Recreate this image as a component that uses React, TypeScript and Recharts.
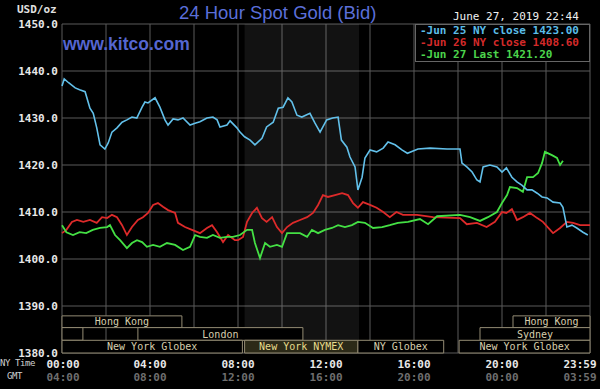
import { LineChart, Line, XAxis, YAxis, CartesianGrid, ReferenceArea } from 'recharts';

// [hour of NY day, price]
const jun25: [number, number][] = [
  [0, 1436.8], [0.1, 1438.3], [0.3, 1437.5], [0.6, 1436.4], [0.8, 1436.0], [1.05, 1435.6],
  [1.27, 1432.1], [1.42, 1431.0], [1.58, 1427.9], [1.73, 1424.3], [1.95, 1423.4], [2.1, 1424.7],
  [2.27, 1427.0], [2.5, 1427.9], [2.73, 1429.1], [2.95, 1429.6], [3.18, 1430.2], [3.4, 1430.0],
  [3.64, 1432.3], [3.77, 1433.4], [3.91, 1433.2], [4.23, 1434.3], [4.45, 1432.3], [4.68, 1429.6],
  [4.82, 1428.5], [5.05, 1429.8], [5.27, 1429.6], [5.5, 1430.0], [5.82, 1428.5], [6.05, 1428.9],
  [6.27, 1429.2], [6.59, 1430.0], [6.86, 1430.2], [7.05, 1429.6], [7.18, 1428.1], [7.5, 1428.5],
  [7.64, 1429.4], [7.95, 1427.9], [8.09, 1427.0], [8.3, 1426.0], [8.55, 1425.3], [8.77, 1424.3],
  [9.09, 1425.7], [9.3, 1428.1], [9.6, 1429.1], [9.83, 1432.1], [10.05, 1432.3], [10.27, 1434.3],
  [10.45, 1433.4], [10.68, 1430.6], [10.9, 1430.2], [11.27, 1431.0], [11.5, 1428.9], [11.73, 1427.0],
  [12.03, 1429.6], [12.3, 1430.0], [12.55, 1430.2], [12.7, 1425.3], [12.95, 1423.8], [13.09, 1421.7],
  [13.32, 1419.6], [13.45, 1414.7], [13.64, 1417.4], [13.77, 1421.5], [14.0, 1423.2], [14.3, 1422.8],
  [14.6, 1423.6], [14.82, 1424.9], [15.14, 1424.3], [15.45, 1423.2], [15.7, 1422.5], [16.18, 1423.4],
  [16.73, 1423.6], [17.5, 1423.4], [18.09, 1423.4], [18.18, 1420.4], [18.4, 1419.6], [18.64, 1418.5],
  [18.86, 1416.8], [19.0, 1416.4], [19.14, 1419.6], [19.45, 1420.0], [19.77, 1419.6], [20.0, 1418.5],
  [20.2, 1419.4], [20.45, 1417.4], [20.68, 1416.4], [20.9, 1415.7], [21.14, 1414.7], [21.36, 1414.7],
  [21.6, 1414.0], [21.82, 1413.2], [22.05, 1413.0], [22.32, 1412.1], [22.64, 1411.9], [22.77, 1411.0],
  [22.95, 1406.8], [23.18, 1407.2], [23.4, 1406.6], [23.68, 1405.7], [23.9, 1405.1],
];

const jun26: [number, number][] = [
  [0, 1405.5], [0.2, 1406.2], [0.45, 1407.9], [0.68, 1408.3], [0.97, 1407.9], [1.27, 1408.3],
  [1.58, 1407.7], [1.82, 1408.9], [2.05, 1408.7], [2.27, 1409.4], [2.5, 1408.9], [2.73, 1407.2],
  [2.95, 1405.1], [3.18, 1406.8], [3.45, 1408.3], [3.68, 1408.9], [3.91, 1409.8], [4.14, 1411.5],
  [4.36, 1411.9], [4.59, 1411.1], [4.82, 1410.4], [5.14, 1409.8], [5.27, 1407.7], [5.59, 1406.8],
  [5.91, 1406.2], [6.27, 1405.5], [6.59, 1406.6], [6.82, 1407.2], [7.05, 1405.7], [7.32, 1403.6],
  [7.55, 1405.1], [7.86, 1404.0], [8.0, 1404.0], [8.23, 1404.7], [8.41, 1407.9], [8.64, 1409.8],
  [8.86, 1410.9], [9.09, 1408.7], [9.3, 1407.9], [9.55, 1408.9], [9.77, 1406.8], [10.0, 1405.5],
  [10.23, 1406.8], [10.5, 1407.7], [10.82, 1408.3], [11.14, 1408.9], [11.41, 1409.8], [11.64, 1411.5],
  [11.86, 1413.6], [12.09, 1413.2], [12.41, 1413.6], [12.73, 1414.0], [13.0, 1413.6], [13.23, 1411.9],
  [13.45, 1410.9], [13.68, 1412.1], [14.0, 1411.5], [14.3, 1410.9], [14.6, 1410.0], [14.9, 1408.9],
  [15.2, 1410.0], [15.5, 1409.4], [15.73, 1409.4], [16.14, 1409.4], [16.86, 1408.9], [18.09, 1408.7],
  [18.4, 1407.4], [18.86, 1407.7], [19.3, 1406.8], [19.68, 1407.9], [20.0, 1410.0], [20.2, 1409.8],
  [20.45, 1410.6], [20.68, 1408.3], [20.95, 1408.9], [21.27, 1409.8], [21.6, 1408.7], [21.86, 1407.9],
  [22.32, 1405.5], [22.64, 1406.6], [22.95, 1407.9], [23.23, 1407.7], [23.55, 1407.2], [24, 1407.2],
];

const jun27: [number, number][] = [
  [0, 1407.2], [0.2, 1405.7], [0.5, 1405.1], [0.8, 1405.7], [1.1, 1405.5], [1.4, 1406.2],
  [1.73, 1406.6], [2.05, 1406.8], [2.18, 1407.2], [2.41, 1405.1], [2.64, 1404.0], [2.95, 1402.3],
  [3.18, 1403.4], [3.41, 1404.0], [3.64, 1403.6], [3.86, 1402.6], [4.14, 1403.0], [4.45, 1402.6],
  [4.77, 1403.4], [5.14, 1403.0], [5.5, 1401.9], [5.82, 1402.6], [6.05, 1405.1], [6.27, 1404.7],
  [6.59, 1404.5], [6.86, 1405.1], [7.18, 1404.5], [7.5, 1404.7], [7.77, 1404.7], [8.09, 1405.1],
  [8.41, 1406.2], [8.64, 1406.2], [8.77, 1403.4], [9.0, 1400.2], [9.23, 1403.4], [9.45, 1402.6],
  [9.77, 1403.0], [10.0, 1402.6], [10.23, 1405.5], [10.5, 1405.5], [10.82, 1405.5], [11.14, 1404.7],
  [11.36, 1406.2], [11.64, 1405.5], [11.95, 1406.2], [12.27, 1406.6], [12.55, 1407.2], [12.86, 1406.8],
  [13.18, 1407.2], [13.45, 1407.9], [13.77, 1407.7], [14.14, 1406.6], [14.55, 1406.8], [14.9, 1407.2],
  [15.27, 1407.7], [15.73, 1407.9], [16.27, 1408.5], [16.64, 1407.4], [17.05, 1409.1], [18.09, 1409.4],
  [18.55, 1408.9], [19.0, 1408.1], [19.36, 1408.9], [19.77, 1410.0], [20.0, 1411.9], [20.23, 1413.6],
  [20.36, 1415.3], [20.68, 1415.1], [20.95, 1414.3], [21.14, 1417.4], [21.41, 1417.4], [21.64, 1418.3],
  [21.82, 1420.4], [21.95, 1422.8], [22.27, 1422.1], [22.5, 1421.5], [22.64, 1420.0], [22.77, 1420.9],
];

const priceTicks = [1380, 1390, 1400, 1410, 1420, 1430, 1440, 1450];
const hourTicks = [0, 2, 4, 6, 8, 10, 12, 14, 16, 18, 20, 22, 24];
const labelHours = [0, 4, 8, 12, 16, 20, 24];
const nyLabels = ['00:00', '04:00', '08:00', '12:00', '16:00', '20:00', '23:59'];
const gmtLabels = ['04:00', '08:00', '12:00', '16:00', '20:00', '00:00', '03:59'];

// market sessions: name, start hour, end hour, row
const sessions: { name: string; start: number; end: number; row: number }[] = [
  { name: 'Hong Kong', start: 0, end: 5.45, row: 0 },
  { name: 'Hong Kong', start: 20.5, end: 24, row: 0 },
  { name: '', start: 0, end: 0.95, row: 1 },
  { name: 'London', start: 3.45, end: 10.95, row: 1 },
  { name: 'Sydney', start: 19, end: 24, row: 1 },
  { name: 'New York Globex', start: 0, end: 8.2, row: 2 },
  { name: 'New York NYMEX', start: 8.3, end: 13.45, row: 2 },
  { name: 'NY Globex', start: 13.45, end: 17.35, row: 2 },
  { name: 'New York Globex', start: 18.05, end: 24, row: 2 },
];
const nymexStart = 8.3;
const nymexEnd = 13.5;

const legendRows = [
  { label: '-Jun 25 NY close 1423.00', color: '#5bbde8' },
  { label: '-Jun 26 NY close 1408.60', color: '#d42a2a' },
  { label: '-Jun 27 Last 1421.20', color: '#4cd44c' },
];

const toPoints = (rows: [number, number][]) => rows.map(([h, v]) => ({ h, v }));

const MONO = '"DejaVu Sans Mono", monospace';
const rowBands = [
  [1385.4, 1387.9],
  [1382.7, 1385.4],
  [1380, 1382.7],
];

function HourTick(props: any) {
  const { x, y, payload } = props;
  const i = labelHours.indexOf(payload.value);
  if (i < 0) return <g />;
  const tx = payload.value === 24 ? x - 10 : payload.value === 0 ? x + 1 : x;
  return (
    <g>
      <text x={tx} y={y + 15} textAnchor="middle" fill="#e8e8e8" fontFamily={MONO} fontSize={11} fontWeight="bold">
        {nyLabels[i]}
      </text>
      <text x={tx} y={y + 28} textAnchor="middle" fill="#6e6e6e" fontFamily={MONO} fontSize={11} fontWeight="bold">
        {gmtLabels[i]}
      </text>
    </g>
  );
}

export default function App() {
  return (
    <div style={{ position: 'absolute', left: 0, top: 0, width: 600, height: 389, background: '#000', overflow: 'hidden' }}>
      <LineChart width={600} height={389} margin={{ top: 24, right: 10, bottom: 0, left: 0 }}>
        <CartesianGrid stroke="#5a5a5a" strokeWidth={1} />
        <ReferenceArea x1={nymexStart} x2={nymexEnd} fill="#ffffff" fillOpacity={0.07} stroke="none" />
        {sessions.map((s, i) => {
          const nymex = s.name.includes('NYMEX');
          return (
            <ReferenceArea
              key={i}
              x1={s.start}
              x2={s.end}
              y1={rowBands[s.row][0]}
              y2={rowBands[s.row][1]}
              fill={nymex ? '#2c2a18' : '#000'}
              fillOpacity={1}
              stroke="#948c74"
              strokeWidth={1}
              label={{
                value: s.name,
                position: 'center',
                fill: nymex ? '#e8dc8c' : '#d8cfae',
                fontSize: 10,
                fontFamily: MONO,
              }}
            />
          );
        })}
        <XAxis
          type="number"
          dataKey="h"
          domain={[0, 24]}
          ticks={hourTicks}
          interval={0}
          height={36}
          axisLine={false}
          tickLine={false}
          tickSize={0}
          tickMargin={0}
          tick={<HourTick />}
        />
        <YAxis
          type="number"
          domain={[1380, 1450]}
          ticks={priceTicks}
          width={62}
          axisLine={false}
          tickLine={false}
          tickSize={0}
          tickMargin={4}
          tickFormatter={(v: number) => v.toFixed(1)}
          tick={{ fill: '#e8e8e8', fontSize: 11, fontFamily: MONO, fontWeight: 'bold' }}
        />
        <Line data={toPoints(jun26)} dataKey="v" stroke="#dd2a2a" strokeWidth={1.8} dot={false} isAnimationActive={false} />
        <Line data={toPoints(jun27)} dataKey="v" stroke="#44e044" strokeWidth={1.8} dot={false} isAnimationActive={false} />
        <Line data={toPoints(jun25)} dataKey="v" stroke="#62c0ea" strokeWidth={1.6} dot={false} isAnimationActive={false} />
      </LineChart>

      <div style={{ position: 'absolute', left: 17, top: 3, font: `bold 11px ${MONO}`, color: '#e0e0e0' }}>USD/oz</div>
      <div style={{ position: 'absolute', left: 179, top: 2, font: '18.5px "Liberation Sans", sans-serif', color: '#5b6fd9' }}>
        24 Hour Spot Gold (Bid)
      </div>
      <div style={{ position: 'absolute', left: 63, top: 34, font: 'bold 17.5px "Liberation Sans", sans-serif', color: '#5566d0' }}>
        www.kitco.com
      </div>
      <div style={{ position: 'absolute', left: 453, top: 10, font: `11px ${MONO}`, color: '#f0f0f0' }}>
        June 27, 2019 22:44
      </div>
      <div
        style={{
          position: 'absolute',
          left: 415,
          top: 24,
          width: 175,
          height: 38,
          background: '#000',
          border: '1px solid #666',
          boxSizing: 'border-box',
          padding: '0 0 0 4px',
          font: `bold 11px ${MONO}`,
          lineHeight: '12px',
        }}
      >
        {legendRows.map((r) => (
          <div key={r.label} style={{ color: r.color, whiteSpace: 'nowrap' }}>
            {r.label}
          </div>
        ))}
      </div>
      <div style={{ position: 'absolute', left: 0, top: 358, font: `9px ${MONO}`, letterSpacing: '-0.4px', color: '#d0d0d0' }}>
        NY Time
      </div>
      <div style={{ position: 'absolute', left: 7, top: 371, font: `9px ${MONO}`, letterSpacing: '-0.4px', color: '#d0d0d0' }}>
        GMT
      </div>
    </div>
  );
}
